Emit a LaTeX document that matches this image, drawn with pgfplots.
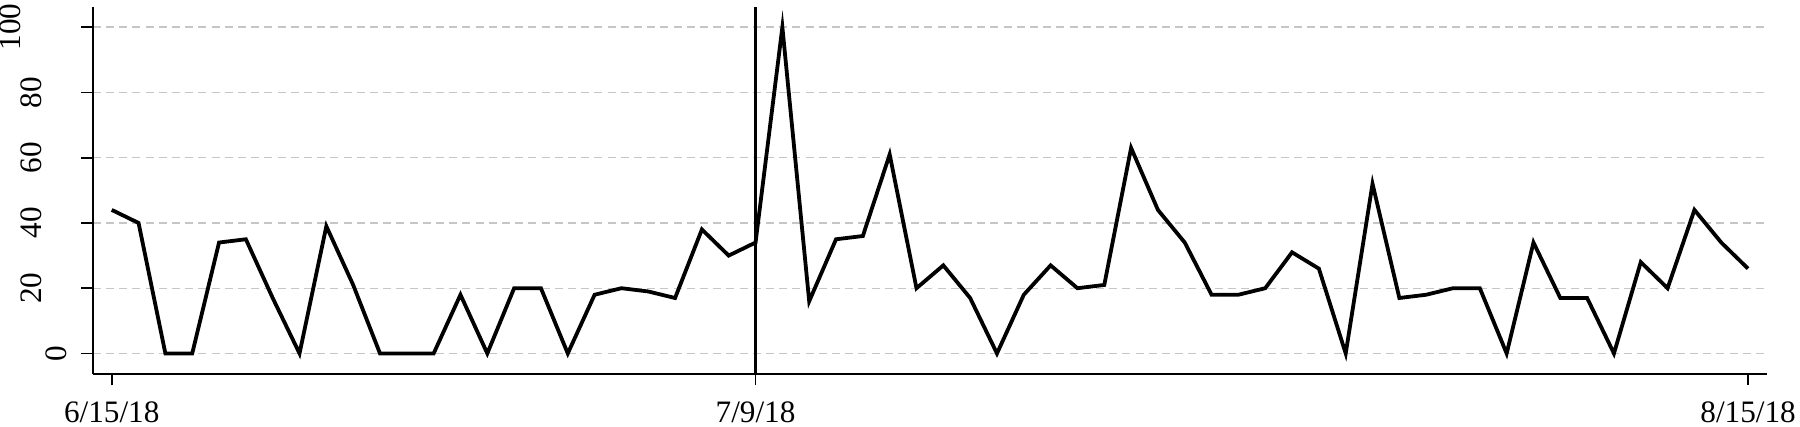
\documentclass[border=0pt]{standalone}
\usepackage{fontspec}
\setmainfont{Liberation Serif}
\usepackage{pgfplots}
\pgfplotsset{compat=1.18}
% 1 px of the reference = 0.25pt
\begin{document}
\begin{tikzpicture}
\begin{axis}[
    at={(23.175pt,13.325pt)}, anchor=south west,
    scale only axis,
    width=418.6pt, height=91.6pt,
    xmin=-0.71, xmax=61.71,
    ymin=-6.2, ymax=106.1,
    axis x line*=bottom, axis y line*=left,
    axis line style={-, line width=0.5pt, black},
    tick align=outside,
    major tick length=2.9pt,
    tick style={black, line width=0.4pt},
    xtick={0,24,61},
    xticklabels={6/15/18,7/9/18,8/15/18},
    xticklabel style={yshift=-0.5pt},
    ytick={0,20,40,60,80,100},
    yticklabels={0,\raisebox{6.25pt}{20},\raisebox{6.25pt}{40},\raisebox{6.25pt}{60},\raisebox{6.25pt}{80},\raisebox{11.5pt}{100}},
    yticklabel style={rotate=90, anchor=south},
    ticklabel style={font=\fontsize{7.8}{9}\selectfont},
    /pgf/number format/assume math mode=true,
    ymajorgrids=true,
    major grid style={color=gray!45, line width=0.35pt, dash pattern=on 2pt off 1.3pt},
]
\addplot[black, line width=0.7pt] coordinates {(24,-6.2)(24,106.1)};
\addplot[black, line width=0.95pt, mark=none] coordinates {
(0,44)(1,40)(2,0)(3,0)(4,34)(5,35)(6,17)(7,0)(8,39)(9,21)
(10,0)(11,0)(12,0)(13,18)(14,0)(15,20)(16,20)(17,0)(18,18)(19,20)
(20,19)(21,17)(22,38)(23,30)(24,34)(25,100)(26,16)(27,35)(28,36)(29,61)
(30,20)(31,27)(32,17)(33,0)(34,18)(35,27)(36,20)(37,21)(38,63)(39,44)
(40,34)(41,18)(42,18)(43,20)(44,31)(45,26)(46,0)(47,52)(48,17)(49,18)
(50,20)(51,20)(52,0)(53,34)(54,17)(55,17)(56,0)(57,28)(58,20)(59,44)
(60,34)(61,26)
};
\end{axis}
\pgfresetboundingbox
\useasboundingbox (0,0) rectangle (450pt,106.75pt);
\end{tikzpicture}
\end{document}
